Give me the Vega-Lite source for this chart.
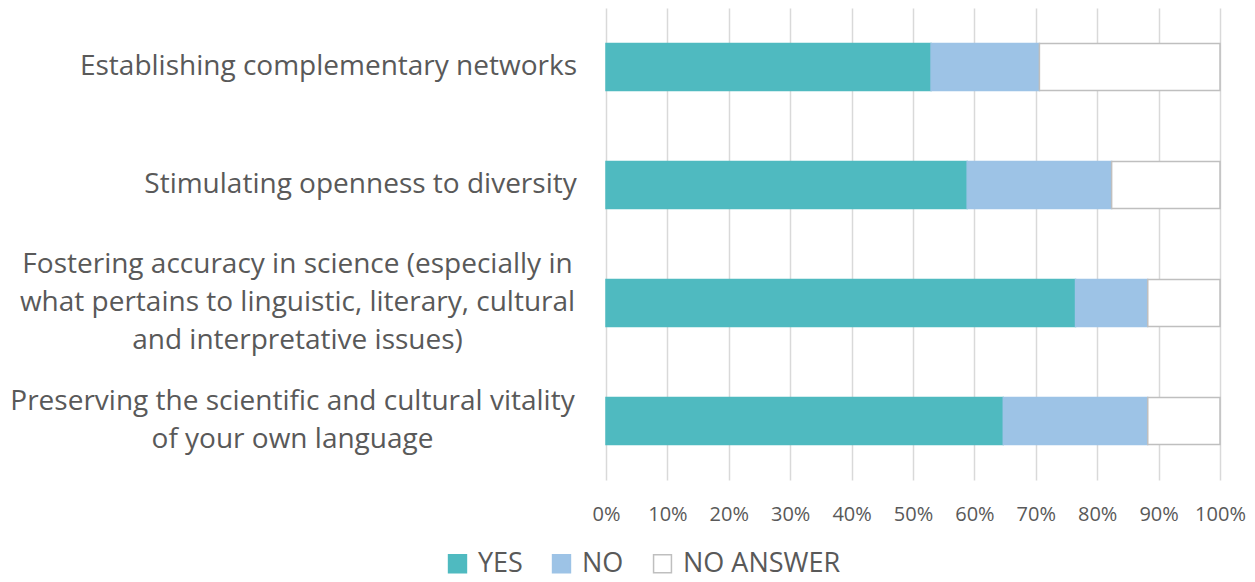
{
  "$schema": "https://vega.github.io/schema/vega-lite/v6.json",
  "width": 614,
  "height": 472,
  "autosize": {"type": "none"},
  "padding": {"left": 606, "top": 8, "right": 35, "bottom": 102},
  "background": "white",
  "config": {"view": {"stroke": null}, "font": "Open Sans"},
  "data": {
    "values": [
      {"item": "Establishing complementary networks", "response": "YES", "order": 1, "count": 9},
      {"item": "Establishing complementary networks", "response": "NO", "order": 2, "count": 3},
      {"item": "Establishing complementary networks", "response": "NO ANSWER", "order": 3, "count": 5},
      {"item": "Stimulating openness to diversity", "response": "YES", "order": 1, "count": 10},
      {"item": "Stimulating openness to diversity", "response": "NO", "order": 2, "count": 4},
      {"item": "Stimulating openness to diversity", "response": "NO ANSWER", "order": 3, "count": 3},
      {"item": "Fostering accuracy in science (especially in|what pertains to linguistic, literary, cultural|and interpretative issues)", "response": "YES", "order": 1, "count": 13},
      {"item": "Fostering accuracy in science (especially in|what pertains to linguistic, literary, cultural|and interpretative issues)", "response": "NO", "order": 2, "count": 2},
      {"item": "Fostering accuracy in science (especially in|what pertains to linguistic, literary, cultural|and interpretative issues)", "response": "NO ANSWER", "order": 3, "count": 2},
      {"item": "Preserving the scientific and cultural vitality|of your own language", "response": "YES", "order": 1, "count": 11},
      {"item": "Preserving the scientific and cultural vitality|of your own language", "response": "NO", "order": 2, "count": 4},
      {"item": "Preserving the scientific and cultural vitality|of your own language", "response": "NO ANSWER", "order": 3, "count": 2}
    ]
  },
  "mark": {"type": "bar", "strokeWidth": 1.5},
  "encoding": {
    "y": {
      "field": "item",
      "type": "nominal",
      "sort": null,
      "scale": {"paddingInner": 0.6, "paddingOuter": 0.3},
      "axis": {
        "title": null,
        "domain": false,
        "ticks": false,
        "labelExpr": "split(datum.label, '|')",
        "labelFontSize": 28,
        "labelLineHeight": 38,
        "labelColor": "#595959",
        "labelLimit": 700,
        "labelAlign": "center",
        "labelBaseline": "middle",
        "labelPadding": {
          "condition": [
            {"test": "indexof(datum.label, 'Establishing') == 0", "value": 278},
            {"test": "indexof(datum.label, 'Stimulating') == 0", "value": 246},
            {"test": "indexof(datum.label, 'Fostering') == 0", "value": 309}
          ],
          "value": 314
        },
        "labelOffset": {
          "condition": [
            {"test": "indexof(datum.label, 'Fostering') == 0", "value": -38},
            {"test": "indexof(datum.label, 'Preserving') == 0", "value": -19}
          ],
          "value": 0
        }
      }
    },
    "x": {
      "field": "count",
      "type": "quantitative",
      "stack": "normalize",
      "scale": {"domain": [0, 1]},
      "axis": {
        "title": null,
        "format": ".0%",
        "values": [0, 0.1, 0.2, 0.3, 0.4, 0.5, 0.6, 0.7, 0.8, 0.9, 1],
        "domain": false,
        "ticks": false,
        "grid": true,
        "gridColor": "#d9d9d9",
        "gridWidth": 1.5,
        "labelFontSize": 20,
        "labelColor": "#595959",
        "labelPadding": 24,
        "labelOverlap": false,
        "labelFlush": false
      }
    },
    "order": {"field": "order", "type": "quantitative"},
    "color": {
      "field": "response",
      "type": "nominal",
      "scale": {"domain": ["YES", "NO", "NO ANSWER"], "range": ["#4fbac0", "#9dc3e6", "#ffffff"]},
      "legend": {
        "title": null,
        "orient": "none",
        "direction": "horizontal",
        "legendX": -162,
        "legendY": 542,
        "symbolType": "square",
        "symbolSize": 320,
        "symbolStrokeWidth": 1.5,
        "labelFontSize": 27,
        "labelColor": "#595959",
        "labelLimit": 400,
        "columnPadding": 25,
        "labelOffset": 7
      }
    },
    "stroke": {
      "field": "response",
      "type": "nominal",
      "scale": {"domain": ["YES", "NO", "NO ANSWER"], "range": ["#4fbac0", "#9dc3e6", "#bfbfbf"]},
      "legend": null
    }
  }
}
